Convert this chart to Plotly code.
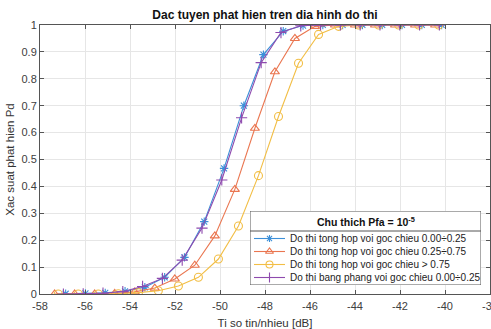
import plotly.graph_objects as go

# ---- data ----
x_blue = [-56.86, -55.98, -55.10, -54.22, -53.34, -52.46, -51.58, -50.70, -49.82, -48.94,
          -48.07, -47.19, -46.31, -45.43, -44.55, -43.67, -42.79, -41.91, -41.03, -40.15]
y_blue = [0.001, 0.002, 0.004, 0.010, 0.025, 0.062, 0.136, 0.269, 0.467, 0.700,
          0.890, 0.977, 0.998, 1.0, 1.0, 1.0, 1.0, 1.0, 1.0, 1.0]

x_orange = [-57.35, -56.46, -55.57, -54.68, -53.79, -52.90, -52.01, -51.12, -50.23, -49.34,
            -48.45, -47.56, -46.67, -45.78, -44.89, -44.00, -43.11, -42.22, -41.33, -40.44]
y_orange = [0.0, 0.0, 0.0, 0.002, 0.008, 0.022, 0.056, 0.107, 0.216, 0.389,
            0.616, 0.826, 0.950, 0.995, 1.0, 1.0, 1.0, 1.0, 1.0, 1.0]

x_yellow = [-57.19, -56.30, -55.41, -54.52, -53.63, -52.74, -51.85, -50.96, -50.07, -49.18,
            -48.29, -47.40, -46.51, -45.62, -44.73, -43.84, -42.95, -42.06, -41.17, -40.28]
y_yellow = [0.0, 0.0, 0.0, 0.001, 0.005, 0.012, 0.030, 0.062, 0.130, 0.253,
            0.440, 0.660, 0.858, 0.965, 0.995, 1.0, 1.0, 1.0, 1.0, 1.0]

x_purple = [-56.96, -56.08, -55.20, -54.32, -53.44, -52.56, -51.68, -50.80, -49.92, -49.04,
            -48.17, -47.29, -46.41, -45.53, -44.65, -43.77, -42.89, -42.01, -41.13, -40.25]
y_purple = [0.0, 0.001, 0.003, 0.009, 0.028, 0.058, 0.126, 0.245, 0.424, 0.655,
            0.860, 0.972, 0.997, 1.0, 1.0, 1.0, 1.0, 1.0, 1.0, 1.0]

names = ["Do thi tong hop voi goc chieu 0.00÷0.25",
         "Do thi tong hop voi goc chieu 0.25÷0.75",
         "Do thi tong hop voi goc chieu > 0.75",
         "Do thi bang phang voi goc chieu 0.00÷0.25"]
legend_title = "<b>Chu thich Pfa = 10<sup>-5</sup></b>"

x_ticks = [-58, -56, -54, -52, -50, -48, -46, -44, -42, -40, -38]
y_ticks = [0, 0.1, 0.2, 0.3, 0.4, 0.5, 0.6, 0.7, 0.8, 0.9, 1]

FONT = "Liberation Sans, Arial, sans-serif"

colors = ["#3C8FD8", "#EA7650", "#F2BE45", "#8E4AAE"]
symbols = ["asterisk-open", "triangle-up-open", "circle-open", "cross-thin-open"]
sizes = [7, 8, 8, 8]
xs_all = [x_blue, x_orange, x_yellow, x_purple]
ys_all = [y_blue, y_orange, y_yellow, y_purple]

# plot area in pixels (for placing the legend box sub-axes)
L, R, T, B = 40, 490, 25, 294
W_PLOT, H_PLOT = R - L, B - T
# legend box (pixels)
LX0, LX1, LY0, LY1 = 250, 481, 211, 285
LW, LH = LX1 - LX0, LY1 - LY0

fig = go.Figure()
for xs, ys, col, sym, sz, nm in zip(xs_all, ys_all, colors, symbols, sizes, names):
    fig.add_trace(go.Scatter(
        x=xs, y=ys, name=nm, mode="lines+markers", showlegend=False,
        line=dict(color=col, width=1.1),
        marker=dict(symbol=sym, size=sz, color=col, line=dict(color=col, width=1.1)),
        xaxis="x", yaxis="y",
    ))

# ---- legend drawn in its own small subplot (coordinates in box pixels) ----
entry_y = [27.5, 40.5, 53.5, 66.5]
for k, (col, sym, sz) in enumerate(zip(colors, symbols, sizes)):
    fig.add_trace(go.Scatter(
        x=[4, 35], y=[entry_y[k]] * 2, mode="lines", showlegend=False, hoverinfo="skip",
        line=dict(color=col, width=1.1), xaxis="x2", yaxis="y2"))
    fig.add_trace(go.Scatter(
        x=[19.5], y=[entry_y[k]], mode="markers", showlegend=False, hoverinfo="skip",
        marker=dict(symbol=sym, size=sz - 1, color=col, line=dict(color=col, width=1.1)),
        xaxis="x2", yaxis="y2"))
    fig.add_annotation(x=38, y=entry_y[k], xref="x2", yref="y2", text=names[k],
                       showarrow=False, xanchor="left", yanchor="middle",
                       font=dict(family=FONT, size=10, color="#222222"))

fig.add_annotation(x=LW / 2, y=10, xref="x2", yref="y2", text=legend_title,
                   showarrow=False, xanchor="center", yanchor="middle",
                   font=dict(family=FONT, size=10.5, color="#111111"))
fig.add_shape(type="rect", xref="x2", yref="y2", x0=0, x1=LW, y0=0, y1=LH,
              fillcolor="white", line=dict(color="#555555", width=1), layer="below")
fig.add_shape(type="line", xref="x2", yref="y2", x0=0, x1=LW, y0=20, y1=20,
              line=dict(color="#555555", width=1), layer="below")

axis_common = dict(
    showgrid=True, gridcolor="#e6e6e6", gridwidth=1,
    showline=True, linecolor="#555555", linewidth=1, mirror="ticks",
    ticks="inside", ticklen=4, tickcolor="#555555",
    tickfont=dict(family=FONT, size=11, color="#404040"),
    zeroline=False, automargin=False,
)

fig.update_layout(
    width=491, height=329,
    margin=dict(l=L, r=491 - R, t=T, b=329 - B, autoexpand=False),
    paper_bgcolor="white", plot_bgcolor="white",
    font=dict(family=FONT, color="#333333"),
    title=dict(text="<b>Dac tuyen phat hien tren dia hinh do thi</b>",
               x=(L + R) / 2 / 491, xanchor="center", y=1 - 14.5 / 329, yanchor="middle",
               font=dict(family=FONT, size=12, color="#111111")),
    xaxis=dict(range=[-58, -38], tickvals=x_ticks, ticktext=[str(v) for v in x_ticks],
               ticklabeloverflow="allow", ticklabelstandoff=2,
               title=dict(text="Ti so tin/nhieu [dB]", font=dict(family=FONT, size=11.5, color="#333333"),
                          standoff=7),
               **axis_common),
    yaxis=dict(range=[0, 1], tickvals=y_ticks, ticktext=[("%g" % v) for v in y_ticks],
               title=dict(text="Xac suat phat hien Pd", font=dict(family=FONT, size=11.5, color="#333333"),
                          standoff=4),
               **axis_common),
    xaxis2=dict(domain=[(LX0 - L) / W_PLOT, (LX1 - L) / W_PLOT], range=[0, LW],
                visible=False, fixedrange=True, anchor="y2"),
    yaxis2=dict(domain=[(B - LY1) / H_PLOT, (B - LY0) / H_PLOT], range=[LH, 0],
                visible=False, fixedrange=True, anchor="x2"),
    showlegend=False,
)

fig.write_html("out.html")
